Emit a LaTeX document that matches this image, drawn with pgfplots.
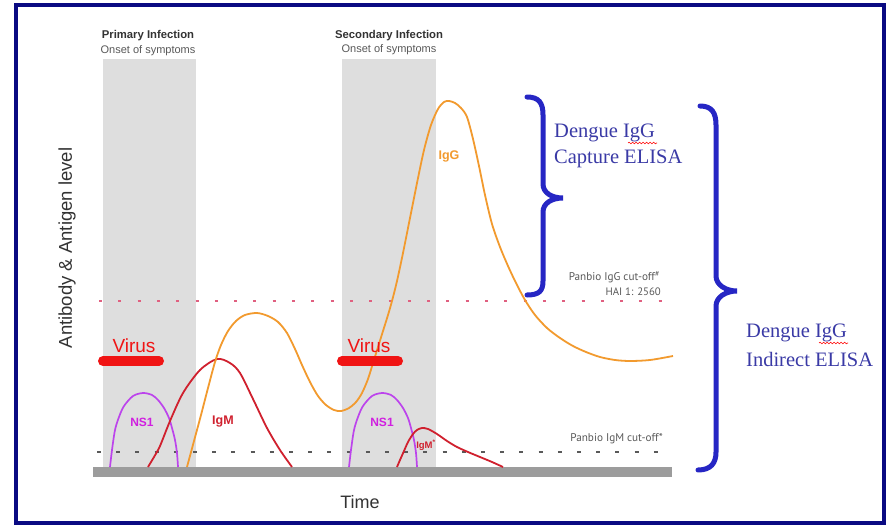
\documentclass[border=0pt]{standalone}
\usepackage{fontspec}
\setmainfont{Liberation Sans}
\newfontfamily\seriffont{Liberation Serif}
\newfontfamily\ptsans{PT Sans}
\usepackage{pgfplots}
\pgfplotsset{compat=1.18}
\usetikzlibrary{decorations.pathmorphing}
\definecolor{navyframe}{HTML}{0A0A82}
\definecolor{panel}{HTML}{DEDEDE}
\definecolor{basebar}{HTML}{9C9C9C}
\definecolor{iggc}{HTML}{F29A2E}
\definecolor{igmc}{HTML}{D0202E}
\definecolor{virusc}{HTML}{F01414}
\definecolor{ns1c}{HTML}{BC44EC}
\definecolor{ns1t}{HTML}{D020E0}
\definecolor{cutred}{HTML}{E06080}
\definecolor{bracec}{HTML}{2626C4}
\definecolor{bluetext}{HTML}{3A3AA6}
\newcommand\fs[1]{\fontsize{#1bp}{#1bp}\selectfont}
\begin{document}
\begin{tikzpicture}
\begin{axis}[width=888bp,height=526bp,scale only axis,
  xmin=0,xmax=888,ymin=0,ymax=526,y dir=reverse,
  axis lines=none,clip=false,enlargelimits=false,xtick=\empty,ytick=\empty]
% background and frame
\fill[white] (0,0) rectangle (888,526);
\draw[navyframe,line width=4bp] (16,5) rectangle (884,523);
% shaded panels
\fill[panel] (103,59) rectangle (196,467);
\fill[panel] (342,59) rectangle (436,467);
% cut-off lines
\addplot[cutred,line width=2bp,dash pattern=on 3bp off 16.3bp,no markers] coordinates {(99,301) (668,301)};
\addplot[black!65,line width=1.2bp,dash pattern=on 4bp off 15.2bp,no markers] coordinates {(97,452) (668,452)};
% baseline
\fill[basebar] (93,467) rectangle (672,477);
% NS1 primary
\addplot[ns1c,line width=1.7bp,smooth,tension=0.5,no markers] coordinates {
(110,467) (112,450) (115,430) (119,417) (124,406) (133,396) (143,393) (152,395) (158,400) (164,408) (169,418) (172,428) (175,440) (177,453) (178,467)};
% NS1 secondary
\addplot[ns1c,line width=1.7bp,smooth,tension=0.5,no markers] coordinates {
(349,467) (351,450) (354,430) (358,417) (363,406) (372,396) (382,393) (391,395) (397,400) (403,408) (408,418) (411,428) (414,440) (416,453) (417,467)};
% IgM primary
\addplot[igmc,line width=1.8bp,smooth,tension=0.5,no markers] coordinates {
(148,467) (154,457) (160,446) (170,421) (183,393) (200,370) (217,359) (230,363) (240,373) (253,399) (267,428) (280,450) (292,467)};
% IgM secondary
\addplot[igmc,line width=1.8bp,smooth,tension=0.5,no markers] coordinates {
(397,467) (400,460) (404,451) (408,442) (413,434) (417,430) (422,428) (428,429) (437,434) (447,441) (457,447) (468,452) (480,457) (492,462) (503,467)};
% IgG
\addplot[iggc,line width=1.8bp,smooth,tension=0.5,no markers] coordinates {
(187,467) (194,441) (201,415) (208,388) (215,362) (221,345) (228,331) (236,321) (245,315) (257,313) (268,316) (278,322) (287,333) (295,349) (302,365) (310,382) (318,396) (326,405) (334,410) (341,411)
(349,408) (356,402) (362,393) (368,379) (373,363) (378,347) (383,331) (388,315) (392,301) (397,281) (403,253) (410,218) (417,183) (424,150) (431,125) (438,109) (444,102) (449,101)
(455,103) (461,108) (467,117) (473,139) (479,166) (485,195) (492,224) (500,247) (508,266) (516,283) (525,300) (535,315) (547,328) (560,338) (573,346) (586,352) (600,357) (615,360) (630,361) (650,360) (673,356)};
% virus bars
\addplot[virusc,line width=10bp,line cap=round,no markers] coordinates {(103,361) (159,361)};
\addplot[virusc,line width=10bp,line cap=round,no markers] coordinates {(342,361) (398,361)};
% labels in chart
\node[font=\fs{19}, text=virusc] at (134,346) {Virus};
\node[font=\fs{19}, text=virusc] at (369,346) {Virus};
\node[font=\bfseries\fs{12}, text=ns1t] at (142,422) {NS1};
\node[font=\bfseries\fs{12}, text=ns1t] at (382,422) {NS1};
\node[font=\bfseries\fs{12.5}, text=igmc] at (223,422) {IgM};
\node[font=\bfseries\fs{9.5}, text=igmc] at (426,445) {IgM\textsuperscript{*}};
\node[font=\bfseries\fs{12.5}, text=iggc] at (449,156) {IgG};
% titles
\node[font=\bfseries\fs{11.3}, text=black!80] at (148,36) {Primary Infection};
\node[font=\fs{11}, text=black!65] at (148,51) {Onset of symptoms};
\node[font=\bfseries\fs{11.3}, text=black!80] at (389,36) {Secondary Infection};
\node[font=\fs{11}, text=black!65] at (389,50) {Onset of symptoms};
% axis titles
\node[font=\fs{18}, text=black!80] at (360,502) {Time};
\node[font=\fs{18.5}, text=black!80, rotate=90] at (67,248) {Antibody \& Antigen level};
% cut-off texts
\node[font=\ptsans\fs{11.2}, text=black!65, anchor=east, inner sep=0pt] at (660,277) {Panbio IgG cut-off\textsuperscript{\#}};
\node[font=\ptsans\fs{10.8}, text=black!65, anchor=east, inner sep=0pt] at (661,292) {HAI 1: 2560};
\node[font=\ptsans\fs{11.2}, text=black!65, anchor=east, inner sep=0pt] at (663,439) {Panbio IgM cut-off*};
% braces
\draw[bracec,line width=5bp,line cap=round] (527,97) .. controls (539,97) and (543,103) .. (543,115) -- (543,184) .. controls (543,193) and (552,198) .. (563,198) .. controls (552,198) and (543,203) .. (543,212) -- (543,281) .. controls (543,291) and (539,295) .. (527,295);
\draw[bracec,line width=5bp,line cap=round] (700,106) .. controls (712,106) and (716,113) .. (716,125) -- (716,276) .. controls (716,285) and (726,291) .. (737,291) .. controls (726,291) and (716,297) .. (716,306) -- (716,452) .. controls (716,463) and (711,470) .. (698,470);
% blue texts
\node[font=\seriffont\fs{20.5}, text=bluetext, anchor=west, inner sep=0pt] at (554,133) {Dengue IgG};
\node[font=\seriffont\fs{20.5}, text=bluetext, anchor=west, inner sep=0pt] at (554,159) {Capture ELISA};
\node[font=\seriffont\fs{20.5}, text=bluetext, anchor=west, inner sep=0pt] at (746,333) {Dengue IgG};
\node[font=\seriffont\fs{20.5}, text=bluetext, anchor=west, inner sep=0pt] at (746,359) {Indirect ELISA};
\draw[red,line width=0.6bp,decorate,decoration={snake,amplitude=0.8bp,segment length=3.5bp}] (628,143) -- (657,143);
\draw[red,line width=0.6bp,decorate,decoration={snake,amplitude=0.8bp,segment length=3.5bp}] (819,343) -- (848,343);
\end{axis}
\end{tikzpicture}
\end{document}
